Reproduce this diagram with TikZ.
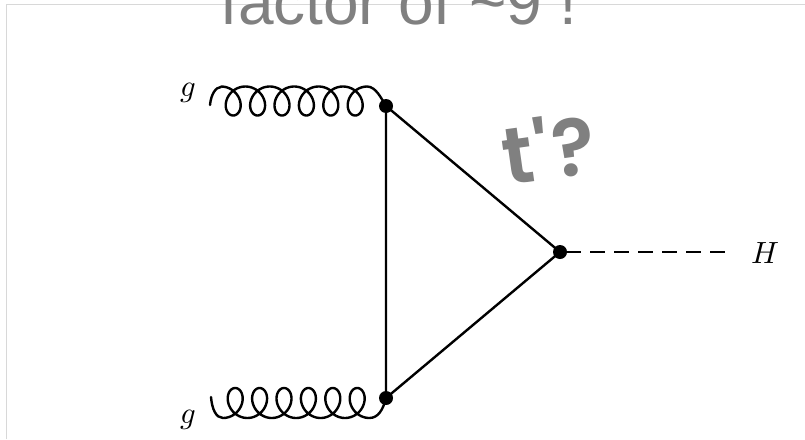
\documentclass[tikz,border=0pt]{standalone}
\usepackage{fontspec}
\setmainfont{Liberation Sans}
\newfontfamily\hand{Poppins}[BoldFont=* SemiBold]
\usepackage{unicode-math}
\setmathfont{Latin Modern Math}
\tikzset{
  px/.style={x=0.75pt,y=-0.75pt},
  feyn/.style={draw=black,line width=1.8pt,line cap=round,line join=round},
  vertexdot/.style={circle,fill=black,inner sep=0pt,minimum size=10.5pt},
  mathlabel/.style={font=\fontsize{23}{26}\selectfont,text=black,inner sep=0pt},
  hw/.style={font=\hand\bfseries\fontsize{60}{62}\selectfont,text=handgray,inner sep=0pt},
}
\definecolor{handgray}{HTML}{808080}
\definecolor{framegray}{HTML}{D8D8D8}
\begin{document}
\begin{tikzpicture}[px]
\useasboundingbox (0,0) rectangle (805,439);
\clip (0,0) rectangle (805,439);
\draw[framegray,line width=0.75pt] (6,439) -- (6,4) -- (805,4);
\node[anchor=base,text=handgray,font=\fontsize{48}{56}\selectfont,inner sep=0pt] (title) at (399,24) {factor of \textasciitilde 9 !};
% vertices
\node[vertexdot] (v1) at (386,106) {};
\node[vertexdot] (v2) at (386,398) {};
\node[vertexdot] (v3) at (560,252) {};
\coordinate (g1end) at (210,105);
\coordinate (g2end) at (211,397);
\coordinate (hend) at (725,252);
% fermion triangle
\draw[feyn] (v1.center) -- (v2.center) -- (v3.center) -- cycle;
% scalar
\draw[feyn,line cap=butt,dash pattern=on 11.25pt off 6.75pt,dash phase=13.5pt] (v3.center) -- (hend);
% gluons
\draw[feyn] (g1end) .. controls (211,94) and (216,87) .. (221,87)
  plot[domain=0:37.699,samples=300,smooth,variable=\t] ({221+3.883*\t+13*sin(\t r)},{101-14.5*cos(\t r)})
  .. controls (376,87) and (381,98) .. (v1.center);
\draw[feyn] (g2end) .. controls (212,409) and (216,418) .. (223,418)
  plot[domain=0:37.699,samples=300,smooth,variable=\t] ({223+3.883*\t+13*sin(\t r)},{403+15*cos(\t r)})
  .. controls (378,418) and (383,410) .. (v2.center);
% labels
\node[mathlabel] (lg1) at (188,93) {$g$};
\node[mathlabel] (lg2) at (188,420) {$g$};
\node[mathlabel] (lH) at (765,253) {$H$};
\node[hw,rotate=8] (tp) at (548,148) {t\kern1pt'\kern2pt?};
\end{tikzpicture}
\end{document}
